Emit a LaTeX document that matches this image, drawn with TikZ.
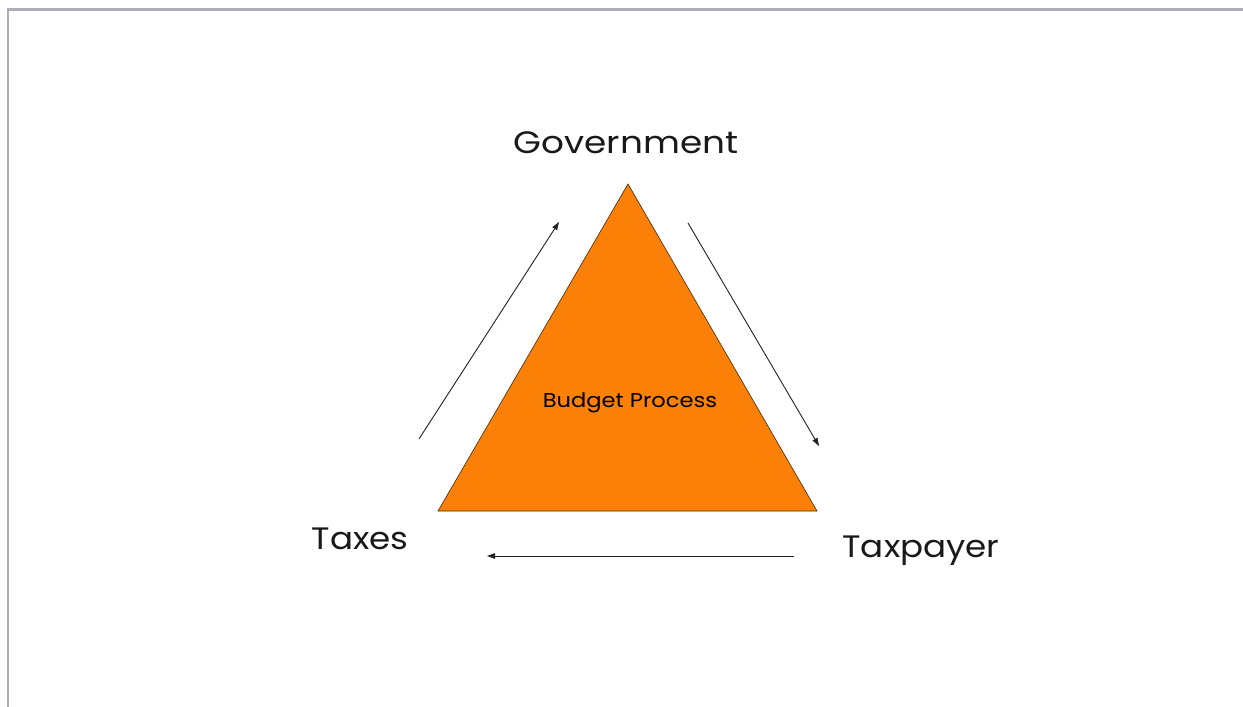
\documentclass[tikz,border=0pt]{standalone}
\usepackage{fontspec}
\setmainfont{Poppins}
\usetikzlibrary{arrows.meta}
\definecolor{tri}{HTML}{FB8008}
\definecolor{frame}{HTML}{ABAEB5}
\definecolor{arr}{HTML}{222222}
\tikzset{
  flow/.style={draw=arr, line width=0.9pt, -{Triangle[length=8pt,width=5.5pt]}},
  biglabel/.style={font=\fontsize{31}{36}\selectfont, inner sep=0pt, text=black!90, xscale=1.1},
  inlabel/.style={font=\fontsize{20}{24}\selectfont, inner sep=0pt, text=black, xscale=1.13}
}
\begin{document}
\begin{tikzpicture}[x=1pt,y=-1pt]
\useasboundingbox (0,0) rectangle (1243,707);
\fill[white] (0,0) rectangle (1243,707);
% frame
\draw[frame, line width=3pt] (7,9.5) -- (1243,9.5);
\draw[frame, line width=1.2pt] (8,8) -- (8,707);
% triangle
\coordinate (apex) at (628,184);
\coordinate (bl) at (438,511);
\coordinate (br) at (817,511);
\filldraw[fill=tri, draw=black!70!tri, line width=0.6pt] (apex) -- (bl) -- (br) -- cycle;
\node[inlabel] (bp) at (630,403) {Budget Process};
% labels
\node[biglabel, xscale=1.05] (gov) at (626,143) {Government};
\node[biglabel] (taxes) at (360,539) {Taxes};
\node[biglabel] (taxpayer) at (921,551) {Taxpayer};
% arrows
\coordinate (a1s) at (419,439);
\coordinate (a1e) at (559,222);
\coordinate (a2s) at (688,223);
\coordinate (a2e) at (819,446);
\coordinate (a3s) at (794,556);
\coordinate (a3e) at (487,556);
\draw[flow] (a1s) -- (a1e);
\draw[flow] (a2s) -- (a2e);
\draw[flow] (a3s) -- (a3e);
\end{tikzpicture}
\end{document}
